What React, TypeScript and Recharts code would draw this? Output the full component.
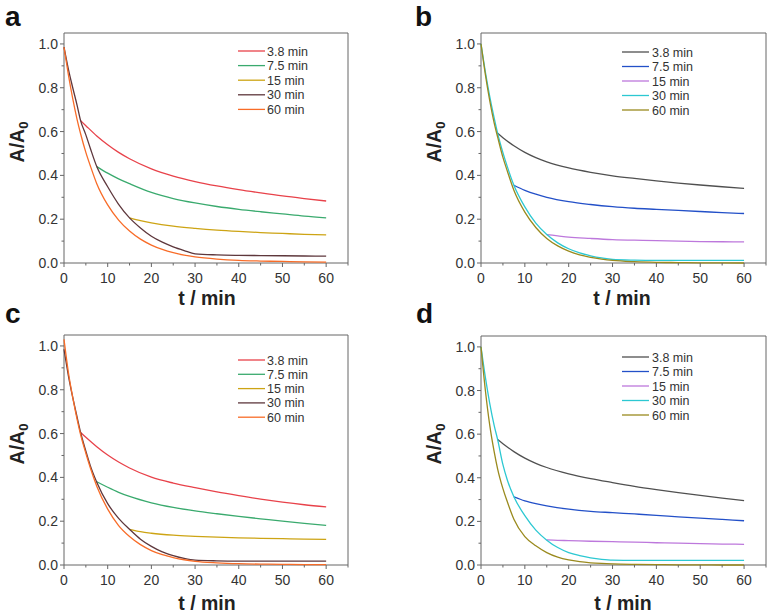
import { LineChart, Line, XAxis, YAxis, ReferenceArea } from 'recharts';

// time grids (min)
const tFull = [0, 1, 2, 3, 3.8, 5, 6, 7.5, 10, 12.5, 15, 17.5, 20, 22.5, 25, 27.5, 30, 35, 40, 45, 50, 55, 60];
const tFrom38 = [3.8, 5, 7.5, 10, 12.5, 15, 20, 25, 30, 35, 40, 45, 50, 55, 60];
const tFrom75 = [7.5, 10, 12.5, 15, 20, 25, 30, 35, 40, 45, 50, 55, 60];
const tFrom15 = [15, 17.5, 20, 25, 30, 35, 40, 45, 50, 55, 60];

const legendLabels = ['3.8 min', '7.5 min', '15 min', '30 min', '60 min'];
const xTicks = [0, 5, 10, 15, 20, 25, 30, 35, 40, 45, 50, 55, 60, 65];
const yTicks = [0, 0.1, 0.2, 0.3, 0.4, 0.5, 0.6, 0.7, 0.8, 0.9, 1.0];

// panel a
const a38 = [0.65, 0.627, 0.58, 0.54, 0.505, 0.476, 0.43, 0.397, 0.372, 0.352, 0.335, 0.32, 0.306, 0.294, 0.283];
const a75 = [0.44, 0.41, 0.384, 0.362, 0.322, 0.294, 0.274, 0.258, 0.245, 0.234, 0.224, 0.214, 0.206];
const a15 = [0.206, 0.193, 0.183, 0.168, 0.158, 0.15, 0.144, 0.139, 0.135, 0.131, 0.128];
const a30 = [0.985, 0.885, 0.8, 0.72, 0.65, 0.585, 0.525, 0.44, 0.348, 0.268, 0.206, 0.16, 0.122, 0.095, 0.074, 0.057, 0.042, 0.037, 0.035, 0.034, 0.033, 0.032, 0.031];
const a60 = [0.985, 0.86, 0.75, 0.655, 0.59, 0.505, 0.445, 0.362, 0.265, 0.196, 0.146, 0.109, 0.082, 0.062, 0.047, 0.036, 0.028, 0.018, 0.012, 0.009, 0.007, 0.005, 0.004];

// panel b
const b38 = [0.592, 0.572, 0.535, 0.505, 0.481, 0.462, 0.434, 0.414, 0.398, 0.386, 0.375, 0.365, 0.356, 0.348, 0.341];
const b75 = [0.355, 0.332, 0.314, 0.3, 0.28, 0.267, 0.257, 0.25, 0.245, 0.24, 0.235, 0.23, 0.226];
const b15 = [0.13, 0.124, 0.118, 0.112, 0.107, 0.104, 0.102, 0.1, 0.098, 0.097, 0.096];
const b30 = [1.0, 0.872, 0.76, 0.663, 0.592, 0.504, 0.44, 0.355, 0.256, 0.182, 0.13, 0.092, 0.065, 0.046, 0.033, 0.023, 0.016, 0.013, 0.012, 0.012, 0.012, 0.012, 0.012];
const b60 = [1.0, 0.86, 0.74, 0.64, 0.575, 0.482, 0.42, 0.332, 0.232, 0.162, 0.112, 0.078, 0.054, 0.037, 0.026, 0.018, 0.012, 0.006, 0.003, 0.002, 0.001, 0.001, 0.0];

// panel c
const c38 = [0.605, 0.583, 0.54, 0.502, 0.47, 0.443, 0.401, 0.374, 0.353, 0.334, 0.317, 0.301, 0.287, 0.275, 0.265];
const c75 = [0.38, 0.355, 0.332, 0.313, 0.284, 0.263, 0.247, 0.234, 0.222, 0.211, 0.2, 0.19, 0.181];
const c15 = [0.163, 0.152, 0.145, 0.136, 0.131, 0.127, 0.124, 0.122, 0.12, 0.118, 0.117];
const c30 = [0.985, 0.865, 0.765, 0.675, 0.605, 0.52, 0.455, 0.378, 0.28, 0.213, 0.163, 0.118, 0.085, 0.06, 0.043, 0.03, 0.022, 0.019, 0.018, 0.018, 0.018, 0.018, 0.018];
const c60 = [1.03, 0.88, 0.765, 0.665, 0.595, 0.51, 0.445, 0.36, 0.255, 0.18, 0.13, 0.093, 0.066, 0.047, 0.034, 0.024, 0.017, 0.01, 0.006, 0.004, 0.003, 0.002, 0.002];

// panel d
const d38 = [0.575, 0.556, 0.52, 0.49, 0.466, 0.447, 0.418, 0.396, 0.378, 0.361, 0.346, 0.332, 0.319, 0.307, 0.295];
const d75 = [0.313, 0.294, 0.281, 0.271, 0.256, 0.246, 0.24, 0.234, 0.228, 0.221, 0.215, 0.209, 0.203];
const d15 = [0.115, 0.113, 0.112, 0.109, 0.107, 0.105, 0.102, 0.1, 0.098, 0.096, 0.095];
const d30 = [1.0, 0.86, 0.74, 0.64, 0.575, 0.46, 0.39, 0.313, 0.226, 0.16, 0.114, 0.08, 0.057, 0.043, 0.033, 0.026, 0.022, 0.021, 0.021, 0.021, 0.021, 0.021, 0.021];
const d60 = [1.0, 0.8, 0.64, 0.52, 0.44, 0.35, 0.29, 0.21, 0.13, 0.088, 0.057, 0.036, 0.023, 0.015, 0.01, 0.007, 0.005, 0.003, 0.002, 0.001, 0.001, 0.0, 0.0];

const warm = ['#e8424a', '#3aaa6e', '#cda414', '#5e373c', '#f86c28'];
const cool = ['#505050', '#2350c8', '#bd78dc', '#2cc8d2', '#9a8a1e'];
const grids = [tFrom38, tFrom75, tFrom15, tFull, tFull];

const FONT = '"Liberation Sans", Arial, sans-serif';
const AXIS = '#666';

const toPoints = (ts: number[], vs: number[]) => ts.map((t, i) => ({ t, v: vs[i] }));

const XTick = ({ x, y, payload }: any) => {
  const major = payload.value % 10 === 0 && payload.value <= 60;
  return (
    <g>
      <line x1={x} y1={y} x2={x} y2={y + (major ? 4 : 2.5)} stroke={AXIS} />
      {major && (
        <text x={x} y={y + 19.5} textAnchor="middle" fontSize={14} fill="#333" fontFamily={FONT}>
          {payload.value}
        </text>
      )}
    </g>
  );
};

const YTick = ({ x, y, payload }: any) => {
  const major = Math.round(payload.value * 10) % 2 === 0;
  return (
    <g>
      <line x1={x} y1={y} x2={x - (major ? 4 : 2.5)} y2={y} stroke={AXIS} />
      {major && (
        <text x={x - 6} y={y} dy="0.36em" textAnchor="end" fontSize={14} fill="#333" fontFamily={FONT}>
          {payload.value.toFixed(1)}
        </text>
      )}
    </g>
  );
};

interface PanelProps {
  letter: string;
  left: number;
  top: number;
  width: number;
  height: number;
  plot: { x: number; y: number; w: number; h: number };
  values: number[][];
  colors: string[];
  legend: { x1: number; x2: number; tx: number; y0: number; dy: number };
  letterPos: [number, number];
  xTitle: [number, number];
  yTitle: [number, number];
}

const YW = 40;
const XH = 25;

function Panel(p: PanelProps) {
  const margin = {
    top: p.plot.y,
    left: p.plot.x - YW,
    right: p.width - p.plot.x - p.plot.w,
    bottom: p.height - p.plot.y - p.plot.h - XH,
  };
  return (
    <div style={{ position: 'absolute', left: p.left, top: p.top, width: p.width, height: p.height }}>
      <LineChart width={p.width} height={p.height} margin={margin}>
        <XAxis
          dataKey="t"
          type="number"
          domain={[0, 65]}
          ticks={xTicks}
          interval={0}
          height={XH}
          axisLine={false}
          tickLine={false}
          tickSize={0}
          tickMargin={0}
          tick={<XTick />}
        />
        <YAxis
          type="number"
          domain={[0, 1.05]}
          ticks={yTicks}
          interval={0}
          width={YW}
          axisLine={false}
          tickLine={false}
          tickSize={0}
          tickMargin={0}
          tick={<YTick />}
        />
        <ReferenceArea x1={0} x2={65} y1={0} y2={1.05} fill="none" fillOpacity={0} stroke={AXIS} strokeWidth={1} />
        {p.values.map((vs, i) => (
          <Line
            key={legendLabels[i]}
            data={toPoints(grids[i], vs)}
            dataKey="v"
            name={legendLabels[i]}
            type="monotone"
            stroke={p.colors[i]}
            strokeWidth={1.3}
            dot={false}
            activeDot={false}
            isAnimationActive={false}
          />
        ))}
      </LineChart>
    </div>
  );
}

const panels: PanelProps[] = [
  {
    letter: 'a', left: 0, top: 0, width: 384, height: 300,
    plot: { x: 64, y: 33, w: 284, h: 230 },
    values: [a38, a75, a15, a30, a60], colors: warm,
    legend: { x1: 238, x2: 265, tx: 267, y0: 51, dy: 14.6 },
    letterPos: [5, 26], xTitle: [207, 298], yTitle: [17, 142],
  },
  {
    letter: 'b', left: 384, top: 0, width: 384, height: 300,
    plot: { x: 97, y: 33, w: 285, h: 230 },
    values: [b38, b75, b15, b30, b60], colors: cool,
    legend: { x1: 622, x2: 649, tx: 652, y0: 52, dy: 14.5 },
    letterPos: [415, 26], xTitle: [622, 298], yTitle: [434, 142],
  },
  {
    letter: 'c', left: 0, top: 300, width: 384, height: 315,
    plot: { x: 64, y: 35, w: 284, h: 230 },
    values: [c38, c75, c15, c30, c60], colors: warm,
    legend: { x1: 238, x2: 265, tx: 267, y0: 360, dy: 14.3 },
    letterPos: [5, 323], xTitle: [207, 603], yTitle: [17, 444],
  },
  {
    letter: 'd', left: 384, top: 300, width: 384, height: 315,
    plot: { x: 97, y: 36, w: 285, h: 229 },
    values: [d38, d75, d15, d30, d60], colors: cool,
    legend: { x1: 622, x2: 649, tx: 652, y0: 357, dy: 14.5 },
    letterPos: [416, 323], xTitle: [623, 603], yTitle: [434, 444],
  },
];

export default function App() {
  return (
    <div style={{ position: 'absolute', left: 0, top: 0, width: 768, height: 615, background: '#fff', fontFamily: FONT }}>
      {panels.map((p) => (
        <Panel key={p.letter} {...p} />
      ))}
      <svg width={768} height={615} style={{ position: 'absolute', left: 0, top: 0, pointerEvents: 'none' }}>
        {panels.map((p) => (
          <g key={p.letter} fontFamily={FONT}>
            <text x={p.letterPos[0]} y={p.letterPos[1]} fontSize={28} fontWeight="bold" fill="#111">
              {p.letter}
            </text>
            <text
              x={p.xTitle[0]}
              y={p.xTitle[1]}
              dy="0.35em"
              textAnchor="middle"
              fontSize={19.5}
              fontWeight="bold"
              fill="#222"
            >
              t / min
            </text>
            <text
              x={p.yTitle[0]}
              y={p.yTitle[1]}
              dy="0.35em"
              textAnchor="middle"
              fontSize={19.5}
              fontWeight="bold"
              fill="#222"
              transform={`rotate(-90 ${p.yTitle[0]} ${p.yTitle[1]})`}
            >
              A/A<tspan fontSize={13} dy="4">0</tspan>
            </text>
            {legendLabels.map((label, i) => {
              const y = p.legend.y0 + i * p.legend.dy;
              return (
                <g key={label}>
                  <line x1={p.legend.x1} y1={y} x2={p.legend.x2} y2={y} stroke={p.colors[i]} strokeWidth={1.3} />
                  <text x={p.legend.tx} y={y} dy="0.36em" fontSize={12.5} fill="#333">
                    {label}
                  </text>
                </g>
              );
            })}
          </g>
        ))}
      </svg>
    </div>
  );
}
